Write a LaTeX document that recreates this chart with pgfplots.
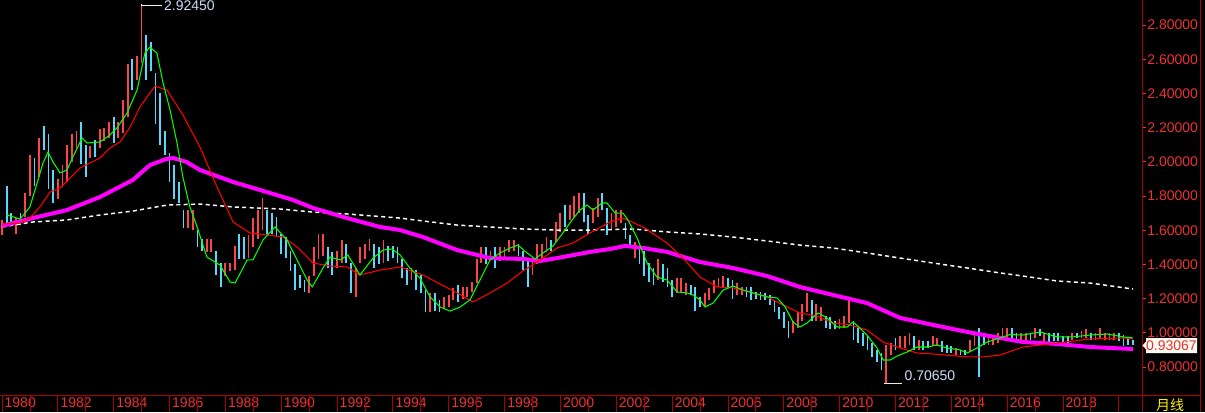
\documentclass[border=0pt]{standalone}
\usepackage{fontspec}
\setmainfont{Liberation Sans}
\newfontfamily\cjk{Noto Sans CJK SC}
\usepackage{pgfplots}
\usepackage{pgfplotstable}
\pgfplotsset{compat=1.18}

\definecolor{upred}{RGB}{250,70,70}
\definecolor{dncyan}{RGB}{90,215,250}
\definecolor{ma5}{RGB}{0,255,0}
\definecolor{ma10}{RGB}{255,0,0}
\definecolor{ma60}{RGB}{255,0,255}
\definecolor{axred}{RGB}{170,0,0}
\definecolor{lblred}{RGB}{235,50,50}
\definecolor{tagcol}{RGB}{205,220,245}
\definecolor{tagbg}{RGB}{250,250,240}

% bimonthly bars from 1980: low, high, d=1 up (red) / 0 down (cyan)
\pgfplotstableread{
lo hi d
1.57 1.66 1
1.64 1.86 0
1.63 1.70 0
1.58 1.67 1
1.63 1.70 0
1.68 1.82 1
1.80 2.04 1
1.86 2.02 0
1.91 2.14 1
2.07 2.21 0
1.84 2.16 0
1.76 1.95 0
1.78 1.90 1
1.85 1.98 1
1.88 2.10 1
2.00 2.16 1
2.08 2.18 1
1.99 2.23 0
1.91 2.10 0
2.02 2.09 1
2.03 2.13 0
2.08 2.19 1
2.12 2.20 1
2.14 2.23 1
2.11 2.26 0
2.14 2.23 1
2.17 2.36 1
2.26 2.57 1
2.42 2.60 0
2.48 2.62 1
2.58 2.9245 1
2.48 2.74 0
2.53 2.70 0
2.22 2.52 0
2.10 2.40 0
2.04 2.18 0
1.88 2.05 0
1.78 1.98 0
1.76 1.88 0
1.61 1.72 0
1.61 1.72 1
1.60 1.72 1
1.50 1.60 0
1.48 1.55 0
1.47 1.55 1
1.47 1.55 1
1.34 1.48 0
1.27 1.41 0
1.33 1.41 1
1.36 1.41 1
1.37 1.51 1
1.43 1.58 0
1.43 1.56 0
1.44 1.57 1
1.50 1.67 1
1.55 1.72 1
1.60 1.79 1
1.58 1.72 0
1.58 1.70 0
1.56 1.68 0
1.46 1.58 0
1.44 1.56 0
1.36 1.48 0
1.25 1.40 0
1.26 1.34 0
1.24 1.31 0
1.23 1.33 1
1.33 1.50 1
1.43 1.58 1
1.45 1.58 1
1.38 1.50 0
1.34 1.47 0
1.38 1.48 1
1.41 1.54 1
1.41 1.52 0
1.23 1.41 0
1.21 1.38 1
1.41 1.50 1
1.43 1.52 1
1.48 1.55 1
1.38 1.52 0
1.40 1.50 0
1.41 1.54 1
1.42 1.51 0
1.44 1.51 0
1.41 1.50 0
1.32 1.43 0
1.28 1.38 0
1.31 1.38 1
1.25 1.37 0
1.23 1.34 0
1.12 1.25 0
1.12 1.23 1
1.13 1.23 0
1.12 1.19 0
1.14 1.21 1
1.15 1.22 1
1.19 1.26 1
1.18 1.28 0
1.20 1.27 1
1.21 1.27 1
1.24 1.30 1
1.29 1.43 1
1.41 1.50 1
1.40 1.50 0
1.43 1.48 1
1.38 1.50 0
1.42 1.50 1
1.44 1.50 1
1.47 1.54 1
1.48 1.54 1
1.45 1.52 0
1.37 1.48 0
1.27 1.44 0
1.34 1.43 1
1.40 1.52 1
1.43 1.52 1
1.47 1.56 1
1.48 1.54 0
1.53 1.65 1
1.59 1.70 1
1.62 1.75 0
1.66 1.75 1
1.68 1.80 1
1.70 1.82 1
1.65 1.82 0
1.58 1.69 0
1.64 1.73 1
1.68 1.79 1
1.72 1.82 0
1.57 1.73 0
1.60 1.70 1
1.62 1.72 1
1.64 1.72 1
1.55 1.64 0
1.50 1.57 0
1.44 1.53 1
1.40 1.50 0
1.33 1.48 0
1.30 1.41 0
1.28 1.38 0
1.31 1.43 1
1.30 1.40 0
1.27 1.38 0
1.21 1.31 0
1.23 1.32 1
1.24 1.32 1
1.22 1.29 1
1.22 1.28 0
1.13 1.27 0
1.15 1.21 0
1.15 1.23 1
1.19 1.26 1
1.23 1.31 1
1.27 1.32 1
1.27 1.33 1
1.26 1.32 0
1.20 1.31 0
1.22 1.29 1
1.22 1.27 1
1.21 1.27 0
1.19 1.27 0
1.20 1.24 0
1.19 1.24 0
1.19 1.23 0
1.16 1.22 0
1.12 1.19 0
1.08 1.15 0
1.03 1.12 0
0.97 1.07 0
1.00 1.07 1
1.03 1.12 1
1.07 1.17 1
1.12 1.23 1
1.07 1.19 0
1.07 1.17 1
1.07 1.15 1
1.03 1.10 0
1.02 1.09 0
1.02 1.07 0
1.02 1.08 1
1.03 1.10 1
1.06 1.19 1
0.96 1.07 0
0.94 1.03 0
0.92 1.00 0
0.90 0.98 0
0.86 0.94 0
0.83 0.90 0
0.78 0.88 0
0.7065 0.93 1
0.87 0.94 1
0.90 0.97 0
0.91 0.98 1
0.91 0.98 1
0.93 1.00 1
0.90 0.98 0
0.90 0.96 1
0.90 0.95 0
0.91 0.95 0
0.92 0.98 1
0.92 0.97 1
0.89 0.95 0
0.88 0.93 0
0.88 0.92 0
0.87 0.91 1
0.87 0.90 0
0.87 0.90 0
0.89 0.96 1
0.92 1.00 1
0.74 1.03 0
0.93 1.00 0
0.93 0.98 1
0.93 0.98 1
0.94 1.00 1
0.96 1.03 1
0.96 1.03 1
0.97 1.03 0
0.96 1.00 0
0.95 1.00 1
0.95 1.00 1
0.96 1.00 0
0.97 1.03 1
0.98 1.02 0
0.94 1.00 1
0.94 1.00 0
0.95 1.00 0
0.95 1.00 0
0.94 0.98 0
0.94 0.98 0
0.96 1.00 1
0.97 1.00 0
0.97 1.01 1
0.97 1.02 1
0.96 1.00 0
0.96 1.00 1
0.97 1.03 1
0.96 1.00 1
0.96 1.00 1
0.96 1.00 1
0.95 1.00 0
0.92 0.99 0
0.93 0.97 0
0.93 0.96 0
}\bars

\begin{document}
\begin{tikzpicture}
\fill[black] (0,0) rectangle (903.75pt,309pt);
\useasboundingbox (0,0) rectangle (903.75pt,309pt);
\begin{axis}[
    at={(0pt,12.75pt)}, anchor=south west,
    width=856.5pt, height=296.25pt, scale only axis,
    xmin=1979.93, xmax=2020.83,
    ymin=0.6363, ymax=2.9462,
    clip=false,
    axis line style={draw=none},
    tick align=outside,
    major tick length=3pt,
    xtick pos=bottom, ytick pos=right,
    xtick style={draw=none},
    ytick style={draw=lblred, line width=0.75pt},
    yticklabel pos=right,
    ytick={0.8,1,1.2,1.4,1.6,1.8,2,2.2,2.4,2.6,2.8},
    yticklabels={0.80000,1.00000,1.20000,1.40000,1.60000,1.80000,2.00000,2.20000,2.40000,2.60000,2.80000},
    yticklabel style={font=\fontsize{10.5}{12}\selectfont, text=lblred, xshift=-2.5pt},
    xtick={1980,1982,1984,1986,1988,1990,1992,1994,1996,1998,2000,2002,2004,2006,2008,2010,2012,2014,2016,2018},
    xticklabels={1980,1982,1984,1986,1988,1990,1992,1994,1996,1998,2000,2002,2004,2006,2008,2010,2012,2014,2016,2018},
    xticklabel style={font=\fontsize{10.5}{12}\selectfont, text=lblred, anchor=west, xshift=-1.5pt, yshift=-3pt},
]
% price bars (two months per bar)
\addplot[draw=none, mark=none, forget plot,
    restrict expr to domain={\thisrow{d}}{0.5:1.5},
    error bars/.cd, y dir=plus, y explicit, error mark=none,
    error bar style={draw=upred, line width=1.35pt, solid}]
    table[x expr={1980+\coordindex/6}, y=lo, y error plus expr={\thisrow{hi}-\thisrow{lo}}] {\bars};
\addplot[draw=none, mark=none, forget plot,
    restrict expr to domain={\thisrow{d}}{-0.5:0.5},
    error bars/.cd, y dir=plus, y explicit, error mark=none,
    error bar style={draw=dncyan, line width=1.35pt, solid}]
    table[x expr={1980+\coordindex/6}, y=lo, y error plus expr={\thisrow{hi}-\thisrow{lo}}] {\bars};

% long moving average (white dashed)
\addplot[white, line width=1.1pt, dash pattern=on 3pt off 2.5pt, mark=none] coordinates {
(1980.00,1.619)(1981.11,1.648)(1982.33,1.660)(1983.51,1.689)(1984.69,1.712)(1985.91,1.747)
(1987.09,1.753)(1988.28,1.736)(1989.96,1.724)(1991.14,1.706)(1992.36,1.695)(1994.26,1.671)
(1995.08,1.654)(1996.30,1.630)(1997.48,1.619)(1998.66,1.607)(1999.88,1.601)(2001.06,1.601)
(2002.60,1.607)(2003.82,1.590)(2005.00,1.578)(2006.18,1.560)(2007.40,1.537)(2008.58,1.513)
(2009.77,1.496)(2010.98,1.467)(2012.17,1.437)(2013.35,1.408)(2014.57,1.379)(2015.75,1.350)
(2016.57,1.332)(2017.79,1.303)(2018.97,1.291)(2020.51,1.256)};

% magenta moving average
\addplot[ma60, line width=3pt, mark=none] coordinates {
(1980.00,1.625)(1981.11,1.671)(1982.33,1.718)(1983.51,1.794)(1984.69,1.894)(1985.30,1.981)
(1985.88,2.016)(1986.13,2.022)(1986.60,2.000)(1987.09,1.952)(1988.28,1.882)(1989.49,1.823)
(1990.42,1.777)(1991.14,1.730)(1992.36,1.671)(1993.54,1.619)(1994.26,1.601)(1995.08,1.560)
(1996.30,1.484)(1997.48,1.437)(1998.66,1.432)(1999.27,1.420)(1999.88,1.437)(2001.06,1.473)
(2001.78,1.490)(2002.32,1.508)(2002.96,1.496)(2003.82,1.473)(2005.00,1.414)(2006.18,1.379)
(2007.40,1.332)(2008.58,1.268)(2009.77,1.221)(2010.98,1.174)(2012.17,1.087)(2013.35,1.046)
(2014.57,1.005)(2015.75,0.970)(2016.57,0.946)(2017.79,0.935)(2018.97,0.917)(2020.51,0.905)};

% red moving average
\addplot[ma10, line width=0.8pt, mark=none] coordinates {
(1980.04,1.636)(1980.65,1.642)(1981.00,1.671)(1981.36,1.736)(1981.72,1.823)(1982.08,1.847)
(1982.44,1.905)(1982.80,1.964)(1983.15,1.993)(1983.51,2.022)(1983.87,2.081)(1984.23,2.116)
(1984.59,2.203)(1984.94,2.320)(1985.48,2.443)(1985.91,2.420)(1986.48,2.274)(1987.09,2.087)
(1987.70,1.853)(1988.28,1.648)(1988.88,1.584)(1989.49,1.572)(1990.07,1.560)(1990.57,1.502)
(1991.14,1.408)(1991.75,1.391)(1992.36,1.385)(1992.82,1.338)(1993.54,1.367)(1994.26,1.385)
(1995.08,1.338)(1996.30,1.233)(1996.87,1.180)(1997.48,1.233)(1998.09,1.291)(1998.66,1.361)
(1999.27,1.426)(1999.88,1.496)(2000.45,1.525)(2001.06,1.584)(2001.78,1.648)(2002.24,1.671)
(2002.96,1.619)(2003.82,1.525)(2004.39,1.437)(2005.00,1.326)(2005.61,1.268)(2006.18,1.262)
(2006.79,1.239)(2007.40,1.210)(2007.97,1.163)(2008.58,1.116)(2009.19,1.098)(2009.77,1.057)
(2010.37,1.046)(2010.98,1.016)(2011.56,0.946)(2012.17,0.911)(2012.77,0.882)(2013.35,0.876)
(2014.57,0.859)(2015.14,0.859)(2015.75,0.870)(2016.57,0.917)(2017.79,0.940)(2018.97,0.964)
(2020.15,0.970)(2020.51,0.964)};

% green moving average
\addplot[ma5, line width=0.8pt, mark=none] coordinates {
(1980.18,1.689)(1980.65,1.665)(1981.00,1.736)(1981.26,1.876)(1981.47,1.993)(1981.65,2.057)
(1981.83,1.999)(1982.08,1.935)(1982.33,1.952)(1982.54,2.028)(1982.87,2.139)(1983.05,2.110)
(1983.51,2.116)(1983.87,2.157)(1984.12,2.198)(1984.48,2.285)(1984.84,2.420)(1985.12,2.636)
(1985.30,2.671)(1985.55,2.636)(1985.77,2.461)(1986.02,2.303)(1986.27,2.110)(1986.48,1.911)
(1986.73,1.736)(1986.99,1.619)(1987.34,1.443)(1987.81,1.396)(1988.17,1.297)(1988.35,1.291)
(1988.78,1.426)(1988.99,1.426)(1989.35,1.543)(1989.78,1.619)(1990.21,1.543)(1990.57,1.426)
(1990.93,1.309)(1991.11,1.268)(1991.50,1.379)(1991.75,1.443)(1992.11,1.426)(1992.39,1.455)
(1992.82,1.338)(1993.29,1.437)(1993.65,1.484)(1993.97,1.490)(1994.26,1.455)(1994.61,1.379)
(1994.97,1.320)(1995.33,1.210)(1995.69,1.151)(1996.05,1.127)(1996.41,1.151)(1996.76,1.192)
(1997.12,1.309)(1997.48,1.426)(1997.84,1.467)(1998.20,1.496)(1998.48,1.513)(1998.81,1.467)
(1999.09,1.432)(1999.38,1.467)(1999.74,1.508)(2000.09,1.584)(2000.42,1.660)(2000.70,1.718)
(2000.95,1.747)(2001.17,1.718)(2001.49,1.759)(2001.67,1.759)(2001.96,1.700)(2002.24,1.700)
(2002.42,1.660)(2002.75,1.554)(2003.10,1.408)(2003.46,1.326)(2003.82,1.309)(2004.18,1.239)
(2004.54,1.233)(2004.75,1.221)(2005.00,1.192)(2005.18,1.151)(2005.47,1.174)(2005.83,1.250)
(2006.18,1.274)(2006.54,1.250)(2006.90,1.233)(2007.40,1.210)(2007.76,1.204)(2008.05,1.151)
(2008.33,1.063)(2008.58,1.034)(2008.83,1.057)(2009.23,1.116)(2009.55,1.087)(2009.91,1.034)
(2010.27,1.034)(2010.48,1.063)(2010.73,1.028)(2010.98,0.987)(2011.34,0.911)(2011.56,0.841)
(2011.81,0.841)(2012.06,0.864)(2012.42,0.888)(2012.77,0.917)(2013.13,0.917)(2013.49,0.929)
(2013.85,0.911)(2014.31,0.900)(2014.57,0.882)(2014.92,0.911)(2015.28,0.946)(2015.75,0.970)
(2016.10,0.990)(2016.57,0.987)(2017.18,1.005)(2017.79,0.976)(2018.36,0.976)(2018.97,0.987)
(2019.58,0.993)(2020.15,0.976)(2020.51,0.970)};

% high / low markers
\draw[white!85!gray, line width=0.75pt] (axis cs:1985.00,2.9245) |- (axis cs:1985.72,2.916)
    node[anchor=west, inner sep=1.5pt, yshift=-0.6pt, text=tagcol, font=\fontsize{10.5}{12}\selectfont] {2.92450};
\draw[white!85!gray, line width=0.75pt] (axis cs:2011.60,0.7065) -- (axis cs:2012.24,0.7065)
    node[anchor=south west, inner sep=1.5pt, text=tagcol, font=\fontsize{10.5}{12}\selectfont] {0.70650};
\end{axis}

% frame lines of the trading screen
\draw[axred, line width=0.75pt] (0,12.75pt) -- (900pt,12.75pt);
\draw[axred, line width=0.75pt] (856.5pt,0) -- (856.5pt,309pt);
\draw[axred, line width=0.75pt] (900pt,0) -- (900pt,309pt);
\foreach \i in {0,...,40} \draw[axred, line width=0.6pt] ({1.5pt+20.94pt*\i},0) -- ++(0,12.75pt);

% last price tag
\fill[tagbg] (856.8pt,49.9pt) -- (859.5pt,52.8pt) -- (859.5pt,55.5pt) -- (897.75pt,55.5pt)
    -- (897.75pt,44.25pt) -- (859.5pt,44.25pt) -- (859.5pt,47pt) -- cycle;
\node[text=lblred, font=\fontsize{10.5}{12}\selectfont, inner sep=0pt] at (878.6pt,49.9pt) {0.93067};

\node[text=yellow, font=\cjk\fontsize{10.5}{12}\selectfont, inner sep=0pt] at (877.5pt,5.4pt) {月线};
\end{tikzpicture}
\end{document}
